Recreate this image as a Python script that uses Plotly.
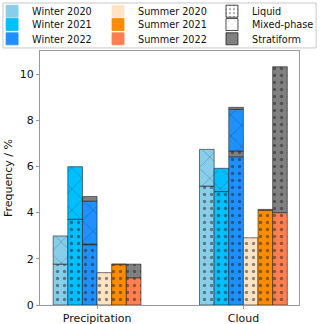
import plotly.graph_objects as go

categories = ["Precipitation", "Cloud"]
seasons = ["Winter 2020", "Winter 2021", "Winter 2022", "Summer 2020", "Summer 2021", "Summer 2022"]
season_colors = ["#87CEEB", "#00BFFF", "#1E90FF", "#FFE4C4", "#FF8C00", "#FF7F50"]
strat_color = "#808080"
phase_names = ["Liquid", "Mixed-phase", "Stratiform"]

# values per season: [Precipitation, Cloud]
liquid = [[1.77, 5.15], [3.71, 4.91], [2.61, 6.42], [1.40, 2.91], [1.75, 4.10], [1.18, 4.00]]
liquid_strat = [[0, 0], [0, 0], [0.03, 0.25], [0, 0], [0, 0], [0.59, 6.32]]
mixed = [[1.22, 1.59], [2.28, 1.01], [1.86, 1.80], [0, 0], [0.03, 0.04], [0, 0]]
mixed_strat = [[0, 0], [0, 0], [0.20, 0.09], [0, 0], [0, 0], [0, 0]]

fig = go.Figure()

DOT = dict(shape=".", size=7, solidity=0.18, fgcolor="#222")
CROSS = dict(shape="x", size=15, solidity=0.06, fgcolor="#222")
EDGE = dict(color="#222", width=0.6)

def nz(v):
    return [None if a == 0 else a for a in v]

for i, s in enumerate(seasons):
    segs = [
        (liquid[i], season_colors[i], DOT),
        (liquid_strat[i], strat_color, DOT),
        (mixed[i], season_colors[i], CROSS),
        (mixed_strat[i], strat_color, CROSS),
    ]
    base = [0.0, 0.0]
    for vals, col, pat in segs:
        fig.add_trace(go.Bar(
            x=categories, y=nz(vals), base=list(base), offsetgroup=s,
            marker=dict(color=col, line=EDGE, pattern=pat),
            showlegend=False, hoverinfo="skip"))
        base = [b + v for b, v in zip(base, vals)]

# legend entries: 3 columns x 3 rows, one small legend per entry
entries = []
for i in range(6):
    entries.append((seasons[i], dict(color=season_colors[i], line=dict(color=season_colors[i], width=0.8))))
entries.append((phase_names[0], dict(color="white", line=dict(color="#222", width=0.8), pattern=dict(DOT, size=5))))
entries.append((phase_names[1], dict(color="white", line=dict(color="#222", width=0.8), pattern=dict(CROSS, size=6))))
entries.append((phase_names[2], dict(color=strat_color, line=dict(color="#222", width=0.8))))

col_x = [-0.185, 0.224, 0.664]
row_y = [1.2138, 1.1614, 1.1051]

layout_legends = {}
for k, (name, m) in enumerate(entries):
    key = "legend" if k == 0 else f"legend{k + 1}"
    fig.add_trace(go.Bar(x=[None], y=[None], name=name, offsetgroup=seasons[0], marker=m, legend=key))
    layout_legends[key] = dict(orientation="v", yanchor="top", xanchor="left",
                               x=col_x[k // 3], y=row_y[k % 3], bgcolor="rgba(0,0,0,0)",
                               borderwidth=0, font=dict(size=9.7), itemwidth=30)

fig.update_layout(
    width=320, height=324,
    margin=dict(l=40, r=21, t=51, b=19, autoexpand=False),
    paper_bgcolor="white", plot_bgcolor="white",
    barmode="group", bargap=0.4, bargroupgap=0,
    font=dict(family="DejaVu Sans", color="#111", size=10),
    showlegend=True,
    shapes=[dict(type="rect", xref="paper", yref="paper", x0=-0.143, x1=1.066, y0=1.012, y1=1.189,
                 line=dict(color="#c8c8c8", width=1), fillcolor="white", layer="below")],
    **layout_legends,
)
fig.update_xaxes(range=[-0.39, 1.38], showline=True, linecolor="#999", linewidth=1, mirror=True,
                 ticks="outside", ticklen=3, tickcolor="#999", tickfont=dict(size=11), showgrid=False)
fig.update_yaxes(range=[0, 11], showline=True, linecolor="#999", linewidth=1, mirror=True,
                 ticks="outside", ticklen=3, tickcolor="#999", tickfont=dict(size=11),
                 tickvals=[0, 2, 4, 6, 8, 10], showgrid=False, zeroline=False,
                 title=dict(text="Frequency / %", font=dict(size=11), standoff=4))

fig.write_html("out.html", config={"displayModeBar": False},
               post_script="document.body.style.margin='0';document.body.style.overflow='hidden';")
